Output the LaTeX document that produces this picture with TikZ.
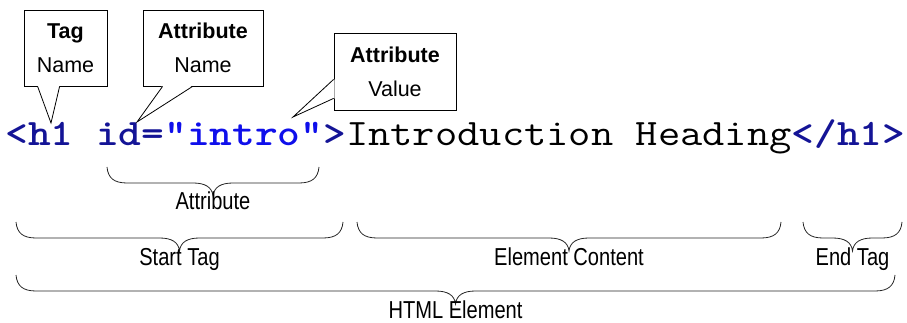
\documentclass[tikz,border=0pt]{standalone}
\usepackage{fontspec}
\usepackage{graphicx}
\setmainfont{Liberation Sans}
\newfontfamily\narrowsf[FakeStretch=0.82]{Liberation Sans}
\definecolor{tagblue}{RGB}{20,20,150}
\definecolor{valblue}{RGB}{15,15,235}
\tikzset{
  callbox/.style={draw, line width=0.8pt, inner sep=0pt, align=center,
    font=\fontsize{21.5}{34}\selectfont},
  bracepath/.style={line width=0.8pt, black!85},
  bracelabel/.style={anchor=base, inner sep=0pt,
    font=\narrowsf\fontsize{24.5}{26}\selectfont},
}
% curly brace under a span: name, left x, right x, top y, label
\newcommand{\hbrace}[5]{%
  \pgfmathsetmacro{\brL}{#2}%
  \pgfmathsetmacro{\brR}{#3}%
  \pgfmathsetmacro{\brM}{(#2+#3)/2}%
  \pgfmathsetmacro{\brT}{#4}%
  \draw[bracepath] (\brL,\brT) .. controls (\brL+1,\brT+11) and (\brL+7,\brT+16) .. (\brL+20,\brT+16)
    -- (\brM-20,\brT+16) .. controls (\brM-8,\brT+16) and (\brM-1,\brT+20) .. (\brM,\brT+29)
    .. controls (\brM+1,\brT+20) and (\brM+8,\brT+16) .. (\brM+20,\brT+16)
    -- (\brR-20,\brT+16) .. controls (\brR-7,\brT+16) and (\brR-1,\brT+11) .. (\brR,\brT);
  \node[bracelabel] (#1) at (\brM,\brT+43) {#5};
}
\newcommand{\codetag}[1]{\textcolor{tagblue}{\bfseries #1}}
\newcommand{\codeval}[1]{\textcolor{valblue}{\bfseries #1}}
\begin{document}
\begin{tikzpicture}[x=1pt, y=-1pt, line width=0.8pt]
    \useasboundingbox (0,0) rectangle (907,323);
    % the code line
    \node[anchor=base west, inner sep=0pt] (code) at (5,146)
      {\scalebox{1.16}[1]{\ttfamily\fontsize{37.3}{40}\selectfont
       \codetag{<h1 id=}\codeval{"intro"}\codetag{>}Introduction Heading\codetag{</h1>}}};
    % callouts
    \node[callbox, minimum width=83, minimum height=76] (tagname) at (65.5,48) {\textbf{Tag}\\Name};
    \node[callbox, minimum width=120, minimum height=76] (attrname) at (203,48) {\textbf{Attribute}\\Name};
    \node[callbox, minimum width=122, minimum height=77] (attrvalue) at (395,71.5) {\textbf{Attribute}\\Value};
    \coordinate (tagtip) at (51,123);
    \coordinate (nametip) at (137,122);
    \coordinate (valuetip) at (293,117);
    \fill[white] ([shift={(14,-1)}]tagname.south west) -- (tagtip) -- ([shift={(36,-1)}]tagname.south west) -- cycle;
    \draw ([shift={(14,0)}]tagname.south west) -- (tagtip) -- ([shift={(36,0)}]tagname.south west);
    \fill[white] ([shift={(20,-1)}]attrname.south west) -- (nametip) -- ([shift={(50,-1)}]attrname.south west) -- cycle;
    \draw ([shift={(20,0)}]attrname.south west) -- (nametip) -- ([shift={(50,0)}]attrname.south west);
    \fill[white] ([shift={(1,-31)}]attrvalue.south west) -- (valuetip) -- ([shift={(1,-12)}]attrvalue.south west) -- cycle;
    \draw ([shift={(0,-31)}]attrvalue.south west) -- (valuetip) -- ([shift={(0,-12)}]attrvalue.south west);
    % braces
    \hbrace{attr}{107}{319}{167}{Attribute}
    \hbrace{starttag}{16}{343}{222}{Start Tag}
    \hbrace{content}{357}{781}{222}{Element Content}
    \hbrace{endtag}{803}{902}{222}{End Tag}
    \hbrace{element}{16}{895}{275}{HTML Element}
\end{tikzpicture}
\end{document}
